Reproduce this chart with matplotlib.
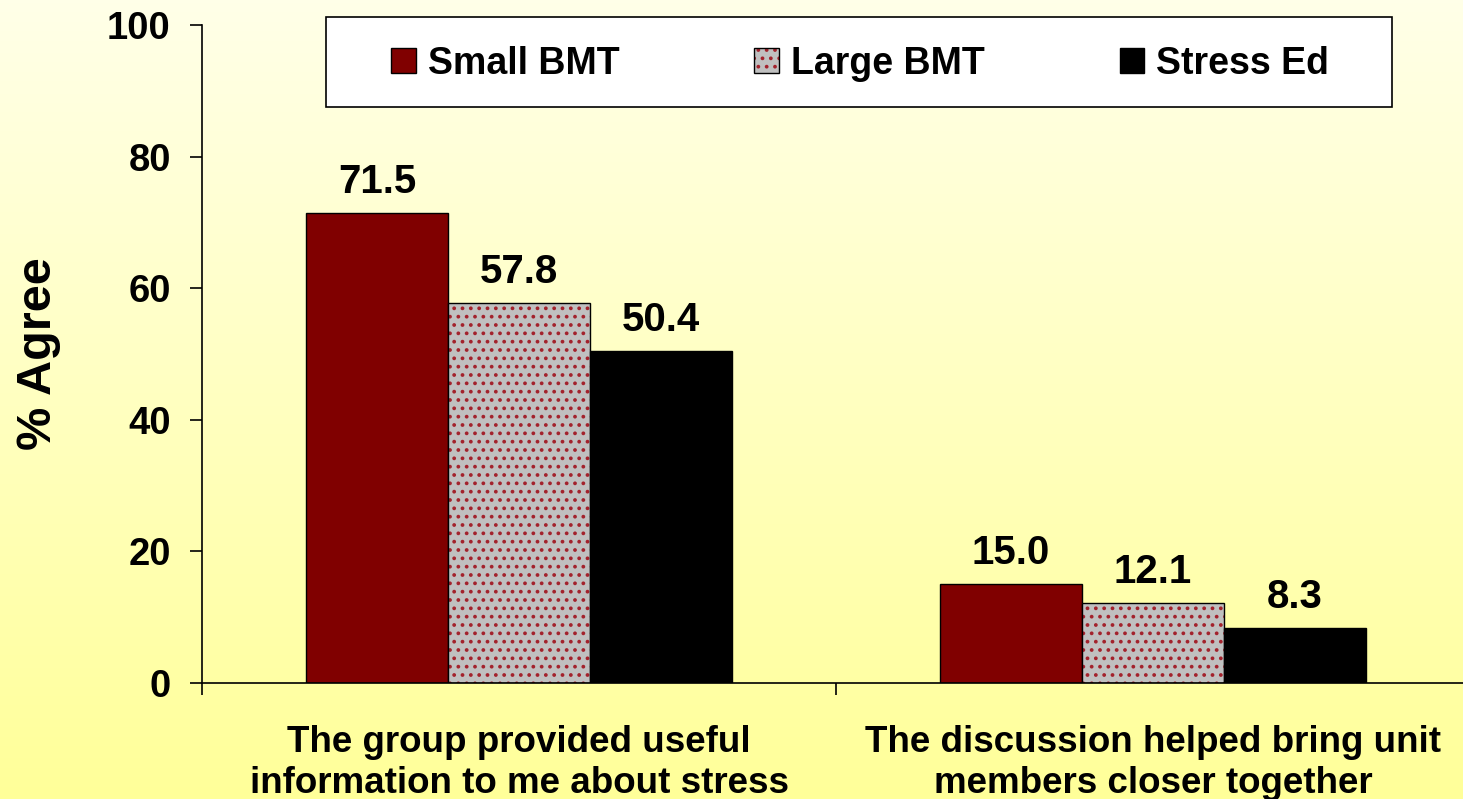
import matplotlib
matplotlib.use("Agg")
import matplotlib.pyplot as plt
import numpy as np
from matplotlib.patches import Patch, Rectangle

# ---- data ----
categories = ["The group provided useful\ninformation to me about stress",
              "The discussion helped bring unit\nmembers closer together"]
series_names = ["Small BMT", "Large BMT", "Stress Ed"]
small_bmt = [71.5, 15.0]
large_bmt = [57.8, 12.1]
stress_ed = [50.4, 8.3]
y_ticks = [0, 20, 40, 60, 80, 100]
y_label = "% Agree"

# ---- style ----
plt.rcParams['font.family'] = ['Liberation Sans', 'DejaVu Sans']
plt.rcParams['font.weight'] = 'bold'
plt.rcParams['hatch.linewidth'] = 1.5

MAROON = '#800000'
SILVER = '#C0C0C0'
DOT = '#A3222C'
FS = 27

W, H = 1463, 799
fig = plt.figure(figsize=(W / 100, H / 100), dpi=100)

# vertical pale-yellow gradient behind everything
bg = fig.add_axes([0, 0, 1, 1], zorder=-10)
t = np.linspace(0, 1, 256)[:, None, None]
top = np.array([255, 255, 232]) / 255
bot = np.array([255, 255, 153]) / 255
img = top * (1 - t) + bot * t
bg.imshow(np.repeat(img, 2, axis=1), aspect='auto', extent=[0, 1, 0, 1])
bg.axis('off')

ax = fig.add_axes([202 / W, 1 - 683 / H, 1268 / W, 658 / H])
ax.set_facecolor('none')

x = np.arange(len(categories))
bw = 0.224
ax.bar(x - bw, small_bmt, bw, color=MAROON, edgecolor='black', linewidth=1)
ax.bar(x, large_bmt, bw, color=SILVER, edgecolor=DOT, linewidth=0, hatch='..')
ax.bar(x, large_bmt, bw, fill=False, edgecolor='black', linewidth=1)
ax.bar(x + bw, stress_ed, bw, color='black', edgecolor='black', linewidth=1)

for offs, vals in zip((-bw, 0, bw), (small_bmt, large_bmt, stress_ed)):
    for xi, v in zip(x + offs, vals):
        ax.annotate(f"{v:.1f}", (xi, v), xytext=(0, 14.4),
                    textcoords='offset points', ha='center', va='baseline',
                    fontsize=29, fontweight='bold')

ax.set_xlim(-0.5, 1.5)
ax.set_ylim(0, 100)
ax.set_yticks(y_ticks)
ax.tick_params(axis='y', labelsize=27.5, length=8.5, width=1.2, pad=14)

ax.set_xticks([-0.5, 0.5, 1.5])
ax.set_xticklabels([])
ax.set_xticks(x, minor=True)
ax.set_xticklabels(categories, minor=True, fontsize=26.5, fontweight='bold',
                   linespacing=1.22)
ax.tick_params(axis='x', which='major', length=8.5, width=1.2)
ax.tick_params(axis='x', which='minor', length=0, pad=30)

for s in ('top', 'right'):
    ax.spines[s].set_visible(False)
for s in ('left', 'bottom'):
    ax.spines[s].set_linewidth(1.2)

fig.text(39 / W, 1 - 354 / H, y_label, rotation=90, ha='center', va='center',
         fontsize=35, fontweight='bold')

# legend
h_small = Patch(facecolor=MAROON, edgecolor='black', lw=1)
h_large = (Patch(facecolor=SILVER, edgecolor=DOT, lw=0, hatch='..'),
           Patch(fill=False, edgecolor='black', lw=1))
h_stress = Patch(facecolor='black', edgecolor='black', lw=1)
fig.add_artist(Rectangle((326 / W, 1 - 107 / H), (1392 - 326) / W, 90 / H,
                         transform=fig.transFigure, facecolor='white',
                         edgecolor='black', lw=1.2, zorder=4))
leg = fig.legend([h_small, h_large, h_stress], series_names, ncol=3,
                 loc='center', bbox_to_anchor=(860 / W, 1 - 64 / H),
                 frameon=False, fontsize=27, handlelength=0.66,
                 handleheight=0.66, handletextpad=0.32, columnspacing=3.6,
                 borderpad=0, borderaxespad=0)
leg.set_zorder(5)

fig.savefig("out.png", dpi=100)
